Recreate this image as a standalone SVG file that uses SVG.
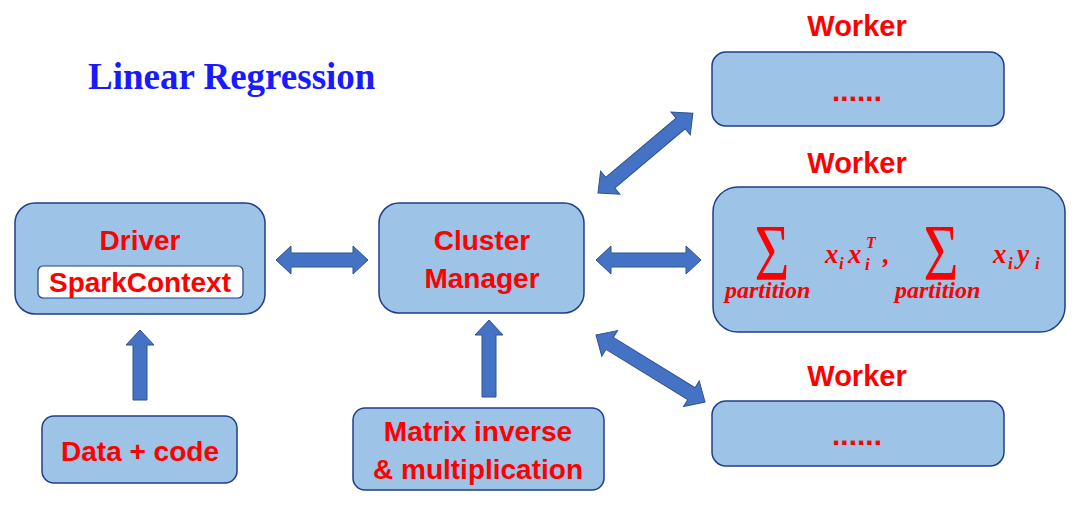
<svg xmlns="http://www.w3.org/2000/svg" width="1080" height="505" viewBox="0 0 1080 505">
<style>
.box{fill:#9DC3E6;stroke:#1F3E8C;stroke-width:1.5}
.inner{fill:#FFFFFF;stroke:#1F3E8C;stroke-width:1.2}
.lbl{font-family:"Liberation Sans",Arial,sans-serif;font-weight:bold;fill:#FF0000;text-anchor:middle;font-size:28px}
.wk{font-size:29px}
.dots{font-size:30px}
.arr{fill:#4472C4;stroke:#2F528F;stroke-width:1}
.m{font-family:"Liberation Serif","DejaVu Serif",serif;font-weight:bold;font-style:italic;fill:#FF0000}
.sig{font-family:"Liberation Serif","DejaVu Serif",serif;fill:#FF0000;text-anchor:middle;font-size:80px}
</style>
<rect width="1080" height="505" fill="#FFFFFF"/>
<text x="88" y="89" style="font-family:'Liberation Serif','Times New Roman',serif;font-weight:bold;font-size:37px;fill:#1A1AFF">Linear Regression</text>

<g id="connectors">
<path class="arr" d="M276,260 L291,246 L291,253 L353,253 L353,246 L368,260 L353,274 L353,267 L291,267 L291,274 Z"/>
<path class="arr" d="M596,260 L611,246 L611,253 L686,253 L686,246 L701,260 L686,274 L686,267 L611,267 L611,274 Z"/>
<path class="arr" transform="translate(598,193) rotate(-40.1)" d="M0,0 L16,-15 L16,-7 L108,-7 L108,-15 L124,0 L108,15 L108,7 L16,7 L16,15 Z"/>
<path class="arr" transform="translate(596,335) rotate(31.6)" d="M0,0 L16,-15 L16,-7 L112,-7 L112,-15 L128,0 L112,15 L112,7 L16,7 L16,15 Z"/>
<path class="arr" d="M140,330 L154,345 L147,345 L147,400 L133,400 L133,345 L126,345 Z"/>
<path class="arr" d="M489,320 L503,335 L496,335 L496,397 L482,397 L482,335 L475,335 Z"/>
</g>

<g id="driver">
<rect class="box" x="15" y="203" width="250" height="111" rx="20"/>
<text class="lbl" x="140" y="250">Driver</text>
<rect class="inner" x="38" y="266" width="205" height="32" rx="5"/>
<text class="lbl" x="140" y="292">SparkContext</text>
</g>

<g id="cluster">
<rect class="box" x="379" y="203" width="205" height="110" rx="20"/>
<text class="lbl" x="482" y="250">Cluster</text>
<text class="lbl" x="482" y="288">Manager</text>
</g>

<g id="data">
<rect class="box" x="42" y="416" width="195" height="67" rx="12"/>
<text class="lbl" x="140" y="461">Data + code</text>
</g>

<g id="matrix">
<rect class="box" x="353" y="408" width="251" height="82" rx="12"/>
<text class="lbl" x="478" y="441">Matrix inverse</text>
<text class="lbl" x="478" y="479">&amp; multiplication</text>
</g>

<g id="worker1">
<text class="lbl wk" x="857" y="36">Worker</text>
<rect class="box" x="712" y="52" width="292" height="74" rx="14"/>
<text class="lbl dots" x="857" y="101">......</text>
</g>

<g id="worker2">
<text class="lbl wk" x="857" y="173">Worker</text>
<rect class="box" x="713" y="187" width="352" height="145" rx="25"/>
<text class="sig" transform="translate(772,280) scale(0.75,1)" x="0" y="0">Σ</text>
<text class="m" x="725" y="298" font-size="24">partition</text>
<text class="m" x="825" y="263" font-size="27">x</text>
<text class="m" x="839" y="269" font-size="17">i</text>
<text class="m" x="848" y="263" font-size="27">x</text>
<text class="m" x="866" y="248" font-size="16">T</text>
<text class="m" x="865" y="270" font-size="17">i</text>
<text class="m" x="883" y="263" font-size="27">,</text>
<text class="sig" transform="translate(941,280) scale(0.75,1)" x="0" y="0">Σ</text>
<text class="m" x="895" y="298" font-size="24">partition</text>
<text class="m" x="993" y="263" font-size="27">x</text>
<text class="m" x="1008" y="269" font-size="17">i</text>
<text class="m" x="1017" y="263" font-size="27">y</text>
<text class="m" x="1035" y="269" font-size="17">i</text>
</g>

<g id="worker3">
<text class="lbl wk" x="857" y="386">Worker</text>
<rect class="box" x="712" y="401" width="292" height="65" rx="14"/>
<text class="lbl dots" x="857" y="445">......</text>
</g>
</svg>
